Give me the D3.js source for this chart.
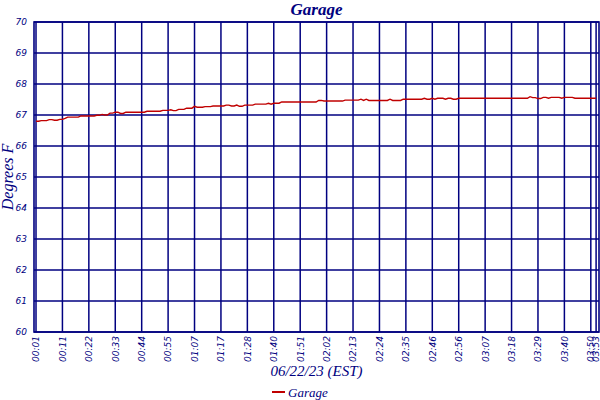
<meta charset="UTF-8">
<script src="https://cdn.jsdelivr.net/npm/d3@7"></script>
<style>
 body { margin:0; background:#fff; }
 .lbl { font-family:"Liberation Serif", serif; font-style:italic; fill:#000080; }
</style>
<svg id="chart" width="600" height="400"></svg>
<script>
 // series name and readings (deg F), one per sample
 var seriesName = "Garage";
 var temps = [
  66.80, 66.80, 66.82, 66.82, 66.82, 66.85, 66.85, 66.83, 66.83, 66.86,
  66.86, 66.89, 66.93, 66.93, 66.93, 66.93, 66.93, 66.97, 66.97, 66.97,
  66.97, 66.97, 66.97, 66.99, 66.99, 67.02, 67.00, 67.00, 67.06, 67.06,
  67.09, 67.09, 67.05, 67.05, 67.09, 67.09, 67.09, 67.09, 67.09, 67.09,
  67.09, 67.09, 67.12, 67.12, 67.12, 67.12, 67.12, 67.12, 67.15, 67.15,
  67.15, 67.17, 67.14, 67.14, 67.18, 67.18, 67.18, 67.22, 67.22, 67.22,
  67.28, 67.25, 67.25, 67.25, 67.27, 67.27, 67.27, 67.29, 67.29, 67.29,
  67.29, 67.29, 67.32, 67.32, 67.29, 67.29, 67.32, 67.28, 67.28, 67.32,
  67.32, 67.32, 67.32, 67.35, 67.35, 67.35, 67.35, 67.35, 67.38, 67.35,
  67.38, 67.38, 67.38, 67.42, 67.42, 67.42, 67.42, 67.42, 67.42, 67.42,
  67.42, 67.42, 67.42, 67.42, 67.42, 67.42, 67.42, 67.47, 67.47, 67.45,
  67.45, 67.45, 67.45, 67.45, 67.45, 67.45, 67.45, 67.48, 67.48, 67.48,
  67.48, 67.48, 67.48, 67.51, 67.47, 67.51, 67.47, 67.47, 67.47, 67.47,
  67.47, 67.47, 67.47, 67.47, 67.51, 67.47, 67.47, 67.47, 67.47, 67.51,
  67.51, 67.51, 67.51, 67.51, 67.51, 67.51, 67.51, 67.54, 67.51, 67.51,
  67.54, 67.51, 67.54, 67.54, 67.54, 67.51, 67.54, 67.54, 67.51, 67.51,
  67.54, 67.54, 67.54, 67.54, 67.54, 67.54, 67.54, 67.54, 67.54, 67.54,
  67.54, 67.54, 67.54, 67.54, 67.54, 67.54, 67.54, 67.54, 67.54, 67.54,
  67.54, 67.54, 67.54, 67.54, 67.54, 67.54, 67.54, 67.59, 67.56, 67.56,
  67.53, 67.53, 67.57, 67.57, 67.54, 67.57, 67.57, 67.57, 67.57, 67.54,
  67.57, 67.57, 67.57, 67.57, 67.54, 67.54, 67.54, 67.54, 67.54, 67.54,
  67.54, 67.54, 67.54
 ];
 // x labels: every 10th sample, plus the last one
 var tickSamples = [0,10,20,30,40,50,60,70,80,90,100,110,120,130,140,150,160,170,180,190,200,210,212];
 var tickTimes = ["00:01","00:11","00:22","00:33","00:44","00:55","01:07","01:17","01:28","01:40","01:51",
                  "02:02","02:13","02:24","02:35","02:46","02:56","03:07","03:18","03:29","03:40","03:50","03:53"];
 var yTicks = [60,61,62,63,64,65,66,67,68,69,70];

 var navy = "#000080", red = "#c00000";
 var pLeft = 34, pRight = 599, pTop = 22, pBottom = 332;

 var svg = d3.select("#chart");

 var x = d3.scaleLinear().domain([-0.76, temps.length + 0.1]).range([pLeft, pRight]);
 var y = d3.scaleLinear().domain([60, 70]).range([pBottom, pTop]);

 // grid
 svg.append("g").selectAll("line").data(yTicks).enter().append("line")
    .attr("x1", pLeft).attr("x2", pRight)
    .attr("y1", function(d){return y(d);}).attr("y2", function(d){return y(d);})
    .attr("stroke", navy).attr("stroke-width", 1.5);
 svg.append("g").selectAll("line").data(tickSamples).enter().append("line")
    .attr("x1", function(d){return x(d);}).attr("x2", function(d){return x(d);})
    .attr("y1", pTop).attr("y2", pBottom)
    .attr("stroke", navy).attr("stroke-width", 1.5);
 svg.append("rect").attr("x", pLeft).attr("y", pTop)
    .attr("width", pRight - pLeft).attr("height", pBottom - pTop)
    .attr("fill", "none").attr("stroke", navy).attr("stroke-width", 1.6);

 // axes (labels only, the grid draws the lines)
 var yAxis = svg.append("g").attr("transform", "translate(" + pLeft + ",0)")
    .call(d3.axisLeft(y).tickValues(yTicks).tickSize(0).tickPadding(7).tickFormat(d3.format("d")));
 yAxis.select(".domain").remove();

 var xAxis = svg.append("g").attr("transform", "translate(0," + pBottom + ")")
    .call(d3.axisBottom(x).tickValues(tickSamples).tickSize(0)
          .tickFormat(function(d, i){ return tickTimes[i]; }));
 xAxis.select(".domain").remove();
 xAxis.selectAll("text")
    .attr("transform", "rotate(-90)")
    .attr("text-anchor", "end")
    .attr("x", -4).attr("y", 0).attr("dy", "0.32em");

 svg.selectAll(".tick text")
    .style("font-family", "'DejaVu Sans', sans-serif")
    .style("font-style", "oblique")
    .style("font-size", "9px")
    .style("fill", navy);

 // series
 svg.append("path").datum(temps)
    .attr("fill", "none").attr("stroke", red).attr("stroke-width", 1.4)
    .attr("d", d3.line().x(function(d, i){return x(i);}).y(function(d){return y(d);}));

 // titles
 svg.append("text").attr("class", "lbl").attr("x", (pLeft + pRight) / 2).attr("y", 15)
    .attr("text-anchor", "middle").style("font-size", "17px").style("font-weight", "bold").text(seriesName);
 svg.append("text").attr("class", "lbl")
    .attr("transform", "translate(13," + ((pTop + pBottom) / 2) + ") rotate(-90)")
    .attr("text-anchor", "middle").style("font-size", "16px").text("Degrees F");
 svg.append("text").attr("class", "lbl").attr("x", (pLeft + pRight) / 2).attr("y", 376)
    .attr("text-anchor", "middle").style("font-size", "15px").text("06/22/23 (EST)");

 // legend
 var lg = svg.append("g").attr("transform", "translate(272,392)");
 lg.append("line").attr("x1", 0).attr("x2", 13).attr("stroke", red).attr("stroke-width", 2);
 lg.append("text").attr("class", "lbl").attr("x", 16).attr("y", 4.5)
    .style("font-size", "13px").text(seriesName);
</script>
